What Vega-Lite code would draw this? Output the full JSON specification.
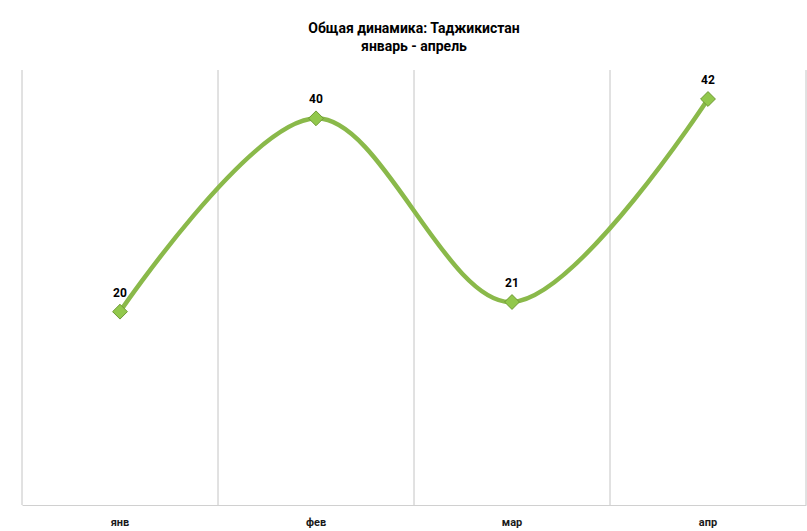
{
  "$schema": "https://vega.github.io/schema/vega-lite/v6.json",
  "autosize": "none",
  "width": 784,
  "height": 435,
  "padding": {"left": 22, "top": 70, "right": 1, "bottom": 26},
  "background": "white",
  "config": {"view": {"stroke": null}},
  "title": {
    "text": "Общая динамика: Таджикистан",
    "subtitle": "январь - апрель",
    "font": "Liberation Sans Narrow, Roboto, sans-serif",
    "subtitleFont": "Liberation Sans Narrow, Roboto, sans-serif",
    "fontSize": 14,
    "subtitleFontSize": 14,
    "fontWeight": "bold",
    "subtitleFontWeight": "bold",
    "color": "#000000",
    "subtitleColor": "#000000",
    "subtitlePadding": 4,
    "anchor": "middle",
    "offset": 16
  },
  "data": {
    "values": [
      {"month": "янв", "value": 20},
      {"month": "фев", "value": 40},
      {"month": "мар", "value": 21},
      {"month": "апр", "value": 42}
    ]
  },
  "encoding": {
    "x": {
      "field": "month",
      "type": "nominal",
      "sort": ["янв", "фев", "мар", "апр"],
      "scale": {"paddingInner": 0, "paddingOuter": 0},
      "axis": {
        "title": null,
        "labelAngle": 0,
        "ticks": false,
        "domain": true,
        "domainColor": "#d0d0d0",
        "domainWidth": 1,
        "grid": false,
        "labelFont": "Liberation Sans Narrow, Roboto, sans-serif",
        "labelFontSize": 11,
        "labelFontWeight": "bold",
        "labelColor": "#1a1a1a",
        "labelPadding": 11
      }
    }
  },
  "layer": [
    {
      "mark": {"type": "rule", "color": "#c4c4c4", "strokeWidth": 1},
      "encoding": {"x": {"field": "month", "type": "nominal", "sort": ["янв", "фев", "мар", "апр"], "bandPosition": 0}}
    },
    {
      "transform": [{"filter": "datum.month === 'апр'"}],
      "mark": {"type": "rule", "color": "#c4c4c4", "strokeWidth": 1},
      "encoding": {"x": {"field": "month", "type": "nominal", "sort": ["янв", "фев", "мар", "апр"], "bandPosition": 1}}
    },
    {
      "mark": {"type": "line", "interpolate": "cardinal", "tension": 0, "color": "#8ab94a", "strokeWidth": 4.5},
      "encoding": {
        "y": {"field": "value", "type": "quantitative", "scale": {"domain": [0, 45], "nice": false, "zero": true}, "axis": null}
      }
    },
    {
      "mark": {"type": "point", "shape": "diamond", "size": 220, "filled": true, "color": "#92c84c", "stroke": "#6f9a35", "strokeWidth": 1, "opacity": 1},
      "encoding": {
        "y": {"field": "value", "type": "quantitative", "scale": {"domain": [0, 45], "nice": false}, "axis": null}
      }
    },
    {
      "mark": {"type": "text", "dy": -19, "font": "Liberation Sans Narrow, Roboto, sans-serif", "fontSize": 12, "fontWeight": "bold", "color": "#000000"},
      "encoding": {
        "y": {"field": "value", "type": "quantitative", "scale": {"domain": [0, 45], "nice": false}, "axis": null},
        "text": {"field": "value", "type": "quantitative"}
      }
    }
  ]
}
